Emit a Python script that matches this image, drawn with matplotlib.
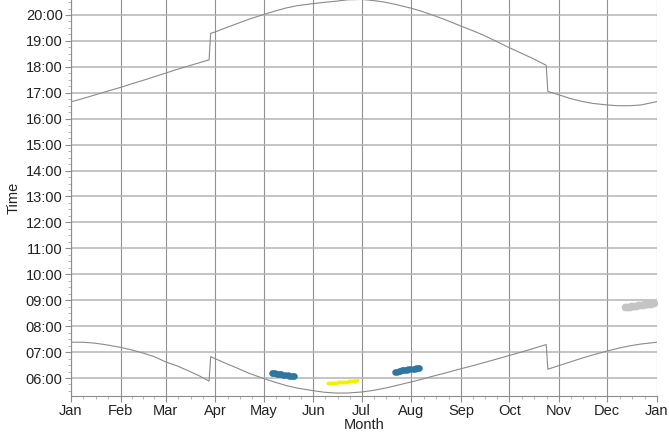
import matplotlib
matplotlib.use("Agg")
import matplotlib.pyplot as plt
import matplotlib.dates as mdates
import datetime as dt
from matplotlib.ticker import FixedLocator, FuncFormatter, MultipleLocator

# ---------------- data ----------------
curve_dates = ["2015-01-01", "2015-01-08", "2015-01-15", "2015-01-22",
               "2015-02-01", "2015-02-08", "2015-02-15", "2015-02-22",
               "2015-03-01", "2015-03-08", "2015-03-15", "2015-03-22",
               "2015-03-28", "2015-03-29",
               "2015-04-01", "2015-04-08", "2015-04-15", "2015-04-22",
               "2015-05-01", "2015-05-08", "2015-05-15", "2015-05-22",
               "2015-06-01", "2015-06-08", "2015-06-15", "2015-06-22",
               "2015-07-01", "2015-07-08", "2015-07-15", "2015-07-22",
               "2015-08-01", "2015-08-08", "2015-08-15", "2015-08-22",
               "2015-09-01", "2015-09-08", "2015-09-15", "2015-09-22",
               "2015-10-01", "2015-10-08", "2015-10-15", "2015-10-24",
               "2015-10-25",
               "2015-11-01", "2015-11-08", "2015-11-15", "2015-11-22",
               "2015-12-01", "2015-12-08", "2015-12-15", "2015-12-22",
               "2016-01-01"]
sunset_hours = [16.65, 16.77, 16.90, 17.03,
                17.21, 17.35, 17.48, 17.62,
                17.76, 17.90, 18.03, 18.16,
                18.27, 19.29,
                19.35, 19.52, 19.68, 19.84,
                20.02, 20.15, 20.27, 20.36,
                20.44, 20.49, 20.53, 20.585,
                20.60, 20.56, 20.50, 20.41,
                20.26, 20.13, 19.98, 19.82,
                19.57, 19.40, 19.22, 19.01,
                18.74, 18.54, 18.34, 18.06,
                17.05,
                16.92, 16.78, 16.67, 16.59,
                16.53, 16.50, 16.50, 16.53,
                16.66]
sunrise_hours = [7.38, 7.38, 7.35, 7.29,
                 7.18, 7.08, 6.96, 6.82,
                 6.62, 6.47, 6.28, 6.08,
                 5.88, 6.82,
                 6.74, 6.55, 6.37, 6.18,
                 5.98, 5.84, 5.71, 5.61,
                 5.51, 5.45, 5.42, 5.42,
                 5.46, 5.52, 5.60, 5.70,
                 5.85, 5.96, 6.08, 6.19,
                 6.36, 6.47, 6.59, 6.71,
                 6.87, 6.99, 7.12, 7.29,
                 6.34,
                 6.48, 6.62, 6.76, 6.89,
                 7.04, 7.15, 7.24, 7.31,
                 7.38]

blue1_dates = ["2015-05-06", "2015-05-07", "2015-05-08", "2015-05-09",
               "2015-05-10", "2015-05-11", "2015-05-12", "2015-05-13", "2015-05-14",
               "2015-05-16", "2015-05-17", "2015-05-18", "2015-05-19", "2015-05-20"]
blue1_hours = [6.19, 6.19, 6.18, 6.17, 6.16, 6.15, 6.14, 6.13, 6.12,
               6.10, 6.09, 6.08, 6.07, 6.06]

blue2_dates = ["2015-07-22", "2015-07-23", "2015-07-24", "2015-07-25", "2015-07-26",
               "2015-07-27", "2015-07-28", "2015-07-29", "2015-07-30", "2015-07-31",
               "2015-08-02", "2015-08-03", "2015-08-04", "2015-08-05", "2015-08-06"]
blue2_hours = [6.22, 6.24, 6.26, 6.28, 6.29, 6.30, 6.31, 6.32, 6.33, 6.34,
               6.35, 6.36, 6.37, 6.38, 6.38]

yellow_dates = ["2015-06-10", "2015-06-11", "2015-06-12", "2015-06-13", "2015-06-14",
                "2015-06-15", "2015-06-16", "2015-06-17", "2015-06-18", "2015-06-19",
                "2015-06-20", "2015-06-21", "2015-06-22", "2015-06-23", "2015-06-24",
                "2015-06-25", "2015-06-26", "2015-06-27", "2015-06-28"]
yellow_hours = [5.80, 5.80, 5.81, 5.81, 5.82, 5.82, 5.83, 5.83, 5.84, 5.84,
                5.85, 5.85, 5.86, 5.87, 5.87, 5.88, 5.89, 5.90, 5.91]

gray_dates = ["2015-12-12", "2015-12-13", "2015-12-14", "2015-12-15", "2015-12-16",
              "2015-12-17", "2015-12-18", "2015-12-19", "2015-12-20", "2015-12-21",
              "2015-12-22", "2015-12-23", "2015-12-24", "2015-12-25", "2015-12-26",
              "2015-12-27", "2015-12-28", "2015-12-29", "2015-12-30"]
gray_hours = [8.72, 8.73, 8.74, 8.75, 8.76, 8.77, 8.78, 8.79, 8.80, 8.81,
              8.82, 8.83, 8.84, 8.85, 8.86, 8.87, 8.87, 8.88, 8.89]

month_labels = ["Jan", "Feb", "Mar", "Apr", "May", "Jun", "Jul",
                "Aug", "Sep", "Oct", "Nov", "Dec", "Jan"]

def to_dt(lst):
    return [dt.datetime.strptime(s, "%Y-%m-%d") for s in lst]

# ---------------- figure ----------------
plt.rcParams['font.family'] = ['Liberation Sans', 'DejaVu Sans']
fig = plt.figure(figsize=(6.69, 4.38), dpi=100)
ax = fig.add_axes([71/669, 1 - 396/438, (657 - 71)/669, 396/438])

line_col = "#8a8a8a"
ax.plot(to_dt(curve_dates), sunset_hours, color=line_col, lw=0.8, zorder=3)
ax.plot(to_dt(curve_dates), sunrise_hours, color=line_col, lw=0.8, zorder=3)

ax.scatter(to_dt(blue1_dates), blue1_hours, s=22, color="#2f76a0", marker="o", lw=0, zorder=4)
ax.scatter(to_dt(blue2_dates), blue2_hours, s=22, color="#2f76a0", marker="o", lw=0, zorder=4)
ax.scatter(to_dt(yellow_dates), yellow_hours, s=8, color="#f2f200", marker="o", lw=0, zorder=4)
ax.scatter(to_dt(gray_dates), gray_hours, s=30, color="#c4c4c4", marker="o", lw=0, zorder=4)

# axes limits
x0 = dt.datetime(2015, 1, 1)
x1 = dt.datetime(2016, 1, 1)
ax.set_xlim(x0, x1)
ax.set_ylim(5.306, 20.578)

# x ticks: month starts, minor quarter-month
majors = [dt.datetime(2015 + (m // 12), m % 12 + 1, 1) for m in range(13)]
major_nums = mdates.date2num(majors)
minor_nums = []
for a, b in zip(major_nums[:-1], major_nums[1:]):
    for f in (0.25, 0.5, 0.75):
        minor_nums.append(a + (b - a) * f)
ax.xaxis.set_major_locator(FixedLocator(major_nums))
ax.xaxis.set_minor_locator(FixedLocator(minor_nums))
ax.set_xticklabels(month_labels)

# y ticks
ax.yaxis.set_major_locator(MultipleLocator(1))
ax.yaxis.set_minor_locator(MultipleLocator(0.25))
ax.yaxis.set_major_formatter(FuncFormatter(lambda v, p: "%02d:00" % int(round(v))))

ax.grid(True, which="major", axis="x", color="#909090", lw=0.8, zorder=0)
ax.grid(True, which="major", axis="y", color="#b4b4b4", lw=1.1, zorder=0)
ax.set_axisbelow(True)

for s in ["top", "right"]:
    ax.spines[s].set_visible(False)
for s in ["left", "bottom"]:
    ax.spines[s].set_color("#8c8c8c")
    ax.spines[s].set_linewidth(0.8)

ax.tick_params(axis="both", which="major", length=4, color="#8c8c8c",
               labelsize=10.5, labelcolor="#222222", pad=2)
ax.tick_params(axis="both", which="minor", length=2, color="#aaaaaa")

ax.set_xlabel("Month", fontsize=10.5, color="#222222", labelpad=0)
ax.set_ylabel("Time", fontsize=10.5, color="#222222", labelpad=4)

fig.savefig("out.png", dpi=100)
